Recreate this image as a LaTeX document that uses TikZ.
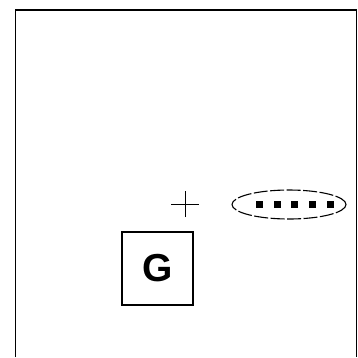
\documentclass[tikz,border=0pt]{standalone}
\usepackage{fontspec}
\setsansfont{Liberation Sans}
\usetikzlibrary{shapes.geometric}

\begin{document}
\begin{tikzpicture}[x=1pt,y=-1pt,font=\sffamily,
  frame/.style={line width=1.8pt,black},
  gbox/.style={draw,line width=1.5pt,minimum width=71pt,minimum height=73pt,inner sep=0pt,font=\sffamily\bfseries\fontsize{39}{41}\selectfont},
  pod/.style={draw,ellipse,line width=1.1pt,dash pattern=on 14pt off 2.5pt,minimum width=114pt,minimum height=29pt,inner sep=0pt},
  seed/.style={fill=black,minimum size=7pt,inner sep=0pt}]
\useasboundingbox (0,0) rectangle (358,357);
\draw[frame] (15.5,357) -- (15.5,10) -- (356.5,10) -- (356.5,357);
% cross mark
\coordinate (mark) at (185,204);
\draw[line width=0.8pt] ([xshift=-14pt]mark) -- ([xshift=14pt]mark);
\draw[line width=0.8pt] ([yshift=-13pt]mark) -- ([yshift=13pt]mark);
% dotted ellipse
\node[pod] (pod) at (289,204.5) {};
\foreach \i in {0,...,4}
  \node[seed] (seed\i) at (259.3+17.7*\i,204) {};
% G box
\node[gbox] (g) at (157.5,268.5) {G};
\end{tikzpicture}
\end{document}
